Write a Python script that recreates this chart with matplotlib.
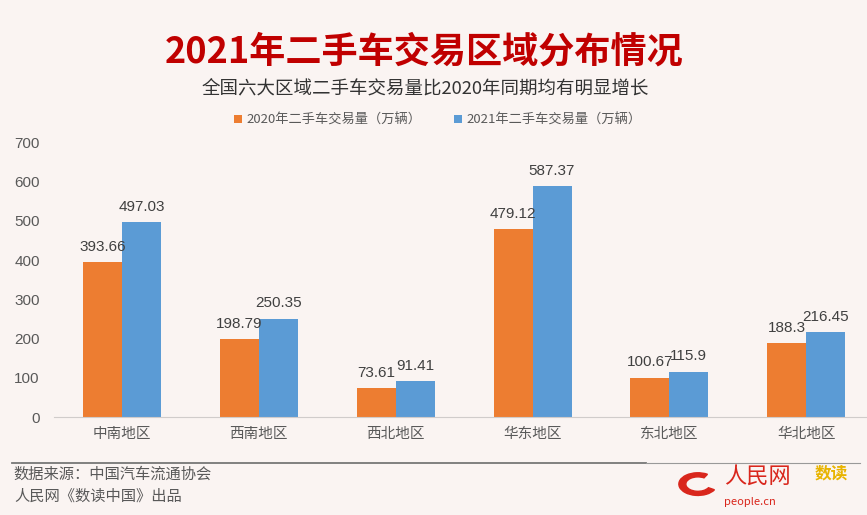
import numpy as np
import matplotlib.pyplot as plt
from matplotlib.patches import Wedge

plt.rcParams['font.family'] = ['Noto Sans CJK SC', 'DejaVu Sans']

# data
regions = ['中南地区', '西南地区', '西北地区', '华东地区', '东北地区', '华北地区']
sales_2020 = [393.66, 198.79, 73.61, 479.12, 100.67, 188.3]
sales_2021 = [497.03, 250.35, 91.41, 587.37, 115.9, 216.45]
series_names = ['2020年二手车交易量（万辆）', '2021年二手车交易量（万辆）']

bg = '#faf4f2'
c20 = '#ed7d31'
c21 = '#5b9bd5'
grey = '#595959'
num_font = ['Liberation Sans', 'DejaVu Sans']

fig = plt.figure(figsize=(8.67, 5.15), dpi=100, facecolor=bg)
ax = fig.add_axes([0.0618, 0.190, 0.947, 0.534], facecolor=bg)

x = np.arange(len(regions))
w = 0.285
b1 = ax.bar(x - w / 2, sales_2020, w, color=c20, label=series_names[0])
b2 = ax.bar(x + w / 2, sales_2021, w, color=c21, label=series_names[1])
# value labels above each bar
ax.bar_label(b1, labels=[f'{v:g}' for v in sales_2020], padding=6,
             fontsize=11, color='#404040', family=num_font)
ax.bar_label(b2, labels=[f'{v:g}' for v in sales_2021], padding=6,
             fontsize=11, color='#404040', family=num_font)

ax.set_xlim(-0.5, len(regions) - 0.5)
ax.set_ylim(0, 700)
ax.set_yticks(range(0, 701, 100))
ax.set_xticks(x)
ax.set_xticklabels(regions, fontsize=10.5, color=grey)
for t in ax.get_yticklabels():
    t.set_family(num_font)
ax.tick_params(axis='y', length=0, labelsize=11, labelcolor=grey, pad=10)
ax.tick_params(axis='x', length=0, pad=7)
for s in ['top', 'right', 'left']:
    ax.spines[s].set_visible(False)
ax.spines['bottom'].set_color('#d0cccb')

# legend
fig.legend(handles=[b1, b2], loc='center', bbox_to_anchor=(0.505, 0.767),
           ncol=2, frameon=False, fontsize=9.5, labelcolor=grey,
           handlelength=0.6, handleheight=0.6, columnspacing=2.5,
           handletextpad=0.3)

# titles
fig.text(0.489, 0.898, '2021年二手车交易区域分布情况', ha='center', va='center',
         fontsize=26, fontweight='bold', color='#c00000')
fig.text(0.49, 0.828, '全国六大区域二手车交易量比2020年同期均有明显增长',
         ha='center', va='center', fontsize=13.3, color='#333333')

# separator and footer
fig.add_artist(plt.Line2D([0.014, 0.745], [0.101, 0.101], color='#777777', lw=1.3))
fig.add_artist(plt.Line2D([0.745, 0.992], [0.101, 0.101], color='#999999', lw=0.8))
fig.text(0.016, 0.080, '数据来源：中国汽车流通协会', ha='left', va='center',
         fontsize=11, color=grey)
fig.text(0.016, 0.037, '人民网《数读中国》出品', ha='left', va='center',
         fontsize=11, color=grey)

# simple logo
fig.add_artist(Wedge((0.805, 0.06), 0.022, 60, 330, width=0.008,
                     color='#d9261c', transform=fig.transFigure))
fig.text(0.835, 0.075, '人民网', ha='left', va='center', fontsize=16,
         color='#d9261c', style='italic')
fig.text(0.835, 0.025, 'people.cn', ha='left', va='center', fontsize=8,
         color='#d9261c')
fig.text(0.94, 0.08, '数读', ha='left', va='center', fontsize=12,
         color='#e8b400', fontweight='bold')

fig.savefig('out.png', dpi=100, facecolor=bg)
